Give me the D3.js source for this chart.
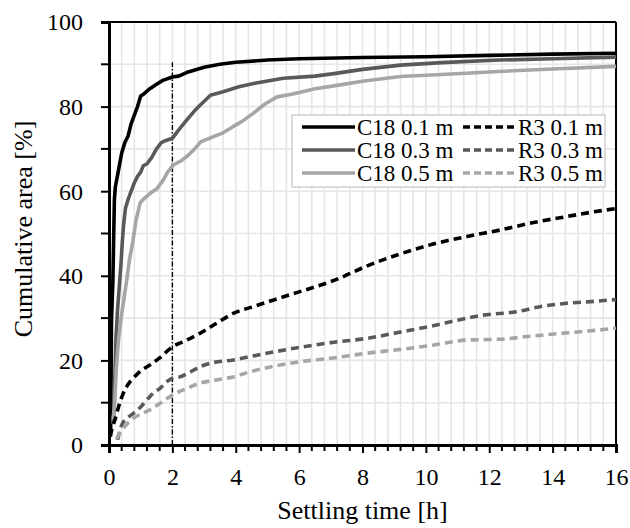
<!DOCTYPE html>
<html>
<head>
<meta charset="utf-8">
<script src="https://cdn.jsdelivr.net/npm/d3@7"></script>
<style>
  body { margin: 0; background: #fff; }
  svg text { font-family: "Liberation Serif", "Times New Roman", Times, serif; fill: #000; }
</style>
</head>
<body>
<div id="chart"></div>
<script>
// values: [time h, cumulative area %]
const c18_01 = [[0.05,2],[0.07,20],[0.08,30],[0.12,38],[0.15,50],[0.17,58],[0.2,61],[0.3,65],[0.4,69],[0.5,71.5],[0.6,73],[0.7,76],[0.8,78],[0.9,80],[1.0,82.5],[1.1,83],[1.3,84.3],[1.5,85.3],[1.7,86.2],[2.0,87],[2.2,87.2],[2.5,88.2],[3.0,89.3],[3.5,90],[4.0,90.5],[5.0,91],[6.0,91.3],[8,91.6],[10,91.8],[12,92.1],[14,92.4],[16,92.6]];
const c18_03 = [[0.1,5],[0.15,7],[0.18,15],[0.22,25],[0.27,32],[0.33,38],[0.38,43],[0.42,48],[0.46,52],[0.52,56],[0.6,58],[0.7,60],[0.8,62],[0.9,63.5],[1.0,64.5],[1.08,66],[1.2,66.5],[1.35,68],[1.5,70],[1.65,71.5],[1.8,72],[2.0,72.5],[2.2,74.5],[2.45,76.8],[2.7,79],[2.9,80.5],[3.2,82.7],[3.6,83.5],[4.1,84.7],[4.6,85.5],[5.5,86.7],[6.5,87.2],[7.1,87.8],[8,88.8],[9.2,89.8],[10.5,90.4],[12.3,91],[14,91.3],[16,91.7]];
const c18_05 = [[0.13,6],[0.18,10],[0.23,18],[0.3,25],[0.4,31],[0.48,35],[0.56,39],[0.65,44],[0.75,48],[0.85,53],[0.98,57.2],[1.1,58.2],[1.3,59.5],[1.5,60.5],[1.7,62.5],[1.85,64.5],[2.03,66.2],[2.3,67.3],[2.5,68.5],[2.7,70],[2.9,71.7],[3.3,72.9],[3.6,73.8],[3.9,75.2],[4.2,76.5],[4.55,78.4],[4.9,80.5],[5.3,82.3],[5.8,83],[6.5,84.2],[7.1,84.9],[8,86],[9.2,87.1],[10.5,87.6],[12.3,88.3],[14,88.9],[16,89.5]];
const r3_01 = [[0.03,2],[0.1,4],[0.19,6],[0.3,9],[0.45,12.2],[0.6,14.3],[0.77,15.8],[1.0,17.5],[1.29,18.9],[1.6,20.6],[2.0,23.2],[2.4,24.6],[2.87,26.4],[3.4,28.8],[3.92,31.1],[4.5,32.6],[5.2,34.3],[6.0,36.2],[6.55,37.5],[7.2,39.2],[8.13,42.3],[9.2,45.2],[10.23,47.5],[11.3,49.3],[12.33,50.8],[13.4,52.6],[14.44,54.0],[15.2,55],[16,55.9]];
const r3_03 = [[0.27,1.2],[0.4,4.7],[0.6,6.5],[0.77,7.5],[1.0,9],[1.19,10.6],[1.4,12.3],[1.61,13.4],[1.8,14.8],[2.0,15.8],[2.24,16.1],[2.5,17],[2.87,18.5],[3.3,19.5],[3.92,20.1],[4.45,20.9],[5.2,22],[6.03,23.1],[7,24.2],[8.13,25.2],[9.2,26.7],[10.23,28.2],[11,29.5],[11.81,30.7],[12.86,31.5],[13.6,32.7],[14.44,33.5],[15.2,33.9],[16,34.4]];
const r3_05 = [[0.24,1.4],[0.35,3],[0.45,3.9],[0.6,5.2],[0.77,6.3],[1.0,7.3],[1.29,8.3],[1.6,9.8],[2.0,11.8],[2.4,13.2],[2.87,14.6],[3.4,15.4],[3.92,16.1],[4.45,17.3],[5.2,18.6],[6.03,19.7],[7,20.5],[8.13,21.7],[9.2,22.6],[10.23,23.6],[11.28,24.8],[12.33,25],[13.4,25.8],[14.44,26.5],[15.2,27],[16,27.6]];

const seriesNames = ['C18 0.1 m', 'C18 0.3 m', 'C18 0.5 m', 'R3 0.1 m', 'R3 0.3 m', 'R3 0.5 m'];
const seriesData = [c18_01, c18_03, c18_05, r3_01, r3_03, r3_05];
const xTicks = [0, 2, 4, 6, 8, 10, 12, 14, 16];
const yTicks = [0, 20, 40, 60, 80, 100];
const markTime = 2;      // dash-dot marker
const markTop = 90.5;

const width = 630, height = 528;
const margin = { left: 109, right: 14, top: 22, bottom: 83 };
const serif = '"Liberation Serif", "Times New Roman", Times, serif';

const svg = d3.select('#chart').append('svg')
  .attr('width', width)
  .attr('height', height);

const x = d3.scaleLinear().domain([0, 16]).range([margin.left, width - margin.right]);
const y = d3.scaleLinear().domain([0, 100]).range([height - margin.bottom, margin.top]);

const colors = ['#000000', '#595959', '#a6a6a6', '#000000', '#595959', '#a6a6a6'];
const dashed = [false, false, false, true, true, true];

// grid
const gridX = d3.range(0.4, 16, 0.4);
const gridY = d3.range(10, 100, 10);
svg.append('g').selectAll('line').data(gridX).enter().append('line')
  .attr('x1', d => x(d)).attr('x2', d => x(d))
  .attr('y1', y(0)).attr('y2', y(100))
  .attr('stroke', '#e6e6e6').attr('stroke-width', 1.6);
svg.append('g').selectAll('line').data(gridY).enter().append('line')
  .attr('x1', x(0)).attr('x2', x(16))
  .attr('y1', d => y(d)).attr('y2', d => y(d))
  .attr('stroke', '#e6e6e6').attr('stroke-width', 1.6);

// frame (top, right)
svg.append('line').attr('x1', x(0)).attr('x2', x(16)).attr('y1', y(100)).attr('y2', y(100))
  .attr('stroke', '#000').attr('stroke-width', 2);
svg.append('line').attr('x1', x(16)).attr('x2', x(16)).attr('y1', y(100)).attr('y2', y(0))
  .attr('stroke', '#000').attr('stroke-width', 2);

// dash-dot marker at 2 h
svg.append('line')
  .attr('x1', x(markTime)).attr('x2', x(markTime))
  .attr('y1', y(0)).attr('y2', y(markTop))
  .attr('stroke', '#000').attr('stroke-width', 1.4)
  .attr('stroke-dasharray', '5,2,1.5,2');

// curves
const line = d3.line().x(d => x(d[0])).y(d => y(d[1]));
const smooth = d3.line().x(d => x(d[0])).y(d => y(d[1])).curve(d3.curveMonotoneX);

seriesData.forEach((s, i) => {
  svg.append('path')
    .datum(s)
    .attr('d', dashed[i] ? smooth : line)
    .attr('fill', 'none')
    .attr('stroke', colors[i])
    .attr('stroke-width', 3.6)
    .attr('stroke-linejoin', 'round')
    .attr('stroke-dasharray', dashed[i] ? '8,5' : null);
});

// axes
const xAxis = d3.axisBottom(x).tickValues(xTicks).tickSize(8).tickFormat(d3.format('d'));
const yAxis = d3.axisLeft(y).tickValues(yTicks).tickSize(8).tickFormat(d3.format('d'));

const gx = svg.append('g').attr('transform', `translate(0,${y(0)})`).call(xAxis);
gx.selectAll('text').attr('font-size', 24).attr('dy', null).attr('y', 40);
const gy = svg.append('g').attr('transform', `translate(${x(0)},0)`).call(yAxis);
gy.selectAll('text').attr('font-size', 24).attr('x', -26).attr('dy', '0.33em');

[gx, gy].forEach(g => {
  g.attr('font-family', serif);
  g.select('.domain').attr('stroke', '#000').attr('stroke-width', 3);
  g.selectAll('.tick line').attr('stroke', '#000').attr('stroke-width', 2);
  g.selectAll('text').style('font-family', serif).attr('fill', '#000');
});

// minor ticks
const minorX = d3.range(0, 16.01, 0.4).filter(v => Math.abs(v / 2 - Math.round(v / 2)) > 0.01);
svg.append('g').selectAll('line').data(minorX).enter().append('line')
  .attr('x1', d => x(d)).attr('x2', d => x(d))
  .attr('y1', y(0)).attr('y2', y(0) + 6)
  .attr('stroke', '#000').attr('stroke-width', 2);
svg.append('g').selectAll('line').data([10, 30, 50, 70, 90]).enter().append('line')
  .attr('x1', x(0) - 8).attr('x2', x(0))
  .attr('y1', d => y(d)).attr('y2', d => y(d))
  .attr('stroke', '#000').attr('stroke-width', 2);

// axis titles
svg.append('text')
  .attr('x', (x(0) + x(16)) / 2).attr('y', 519)
  .attr('text-anchor', 'middle').attr('font-size', 26)
  .style('font-family', serif)
  .text('Settling time [h]');
svg.append('text')
  .attr('transform', 'translate(32,229) rotate(-90)')
  .attr('text-anchor', 'middle').attr('font-size', 26)
  .style('font-family', serif)
  .text('Cumulative area [%]');

// legend
const legend = svg.append('g');
legend.append('rect')
  .attr('x', 292).attr('y', 115).attr('width', 313).attr('height', 72)
  .attr('fill', '#fff').attr('stroke', '#d0d0d0').attr('stroke-width', 1.5);

const legendItems = legend.selectAll('.legend')
  .data(seriesNames)
  .enter().append('g')
  .attr('class', 'legend')
  .attr('transform', (d, i) => `translate(${i < 3 ? 302 : 463}, ${127 + (i % 3) * 23})`);

legendItems.append('line')
  .attr('x1', 0).attr('x2', 53).attr('y1', 0).attr('y2', 0)
  .attr('stroke', (d, i) => colors[i])
  .attr('stroke-width', 3.6)
  .attr('stroke-dasharray', (d, i) => dashed[i] ? '7,4' : null);

legendItems.append('text')
  .attr('x', 55).attr('y', 0).attr('dy', '0.35em')
  .attr('font-size', 23)
  .style('font-family', serif)
  .text(d => d);
</script>
</body>
</html>
